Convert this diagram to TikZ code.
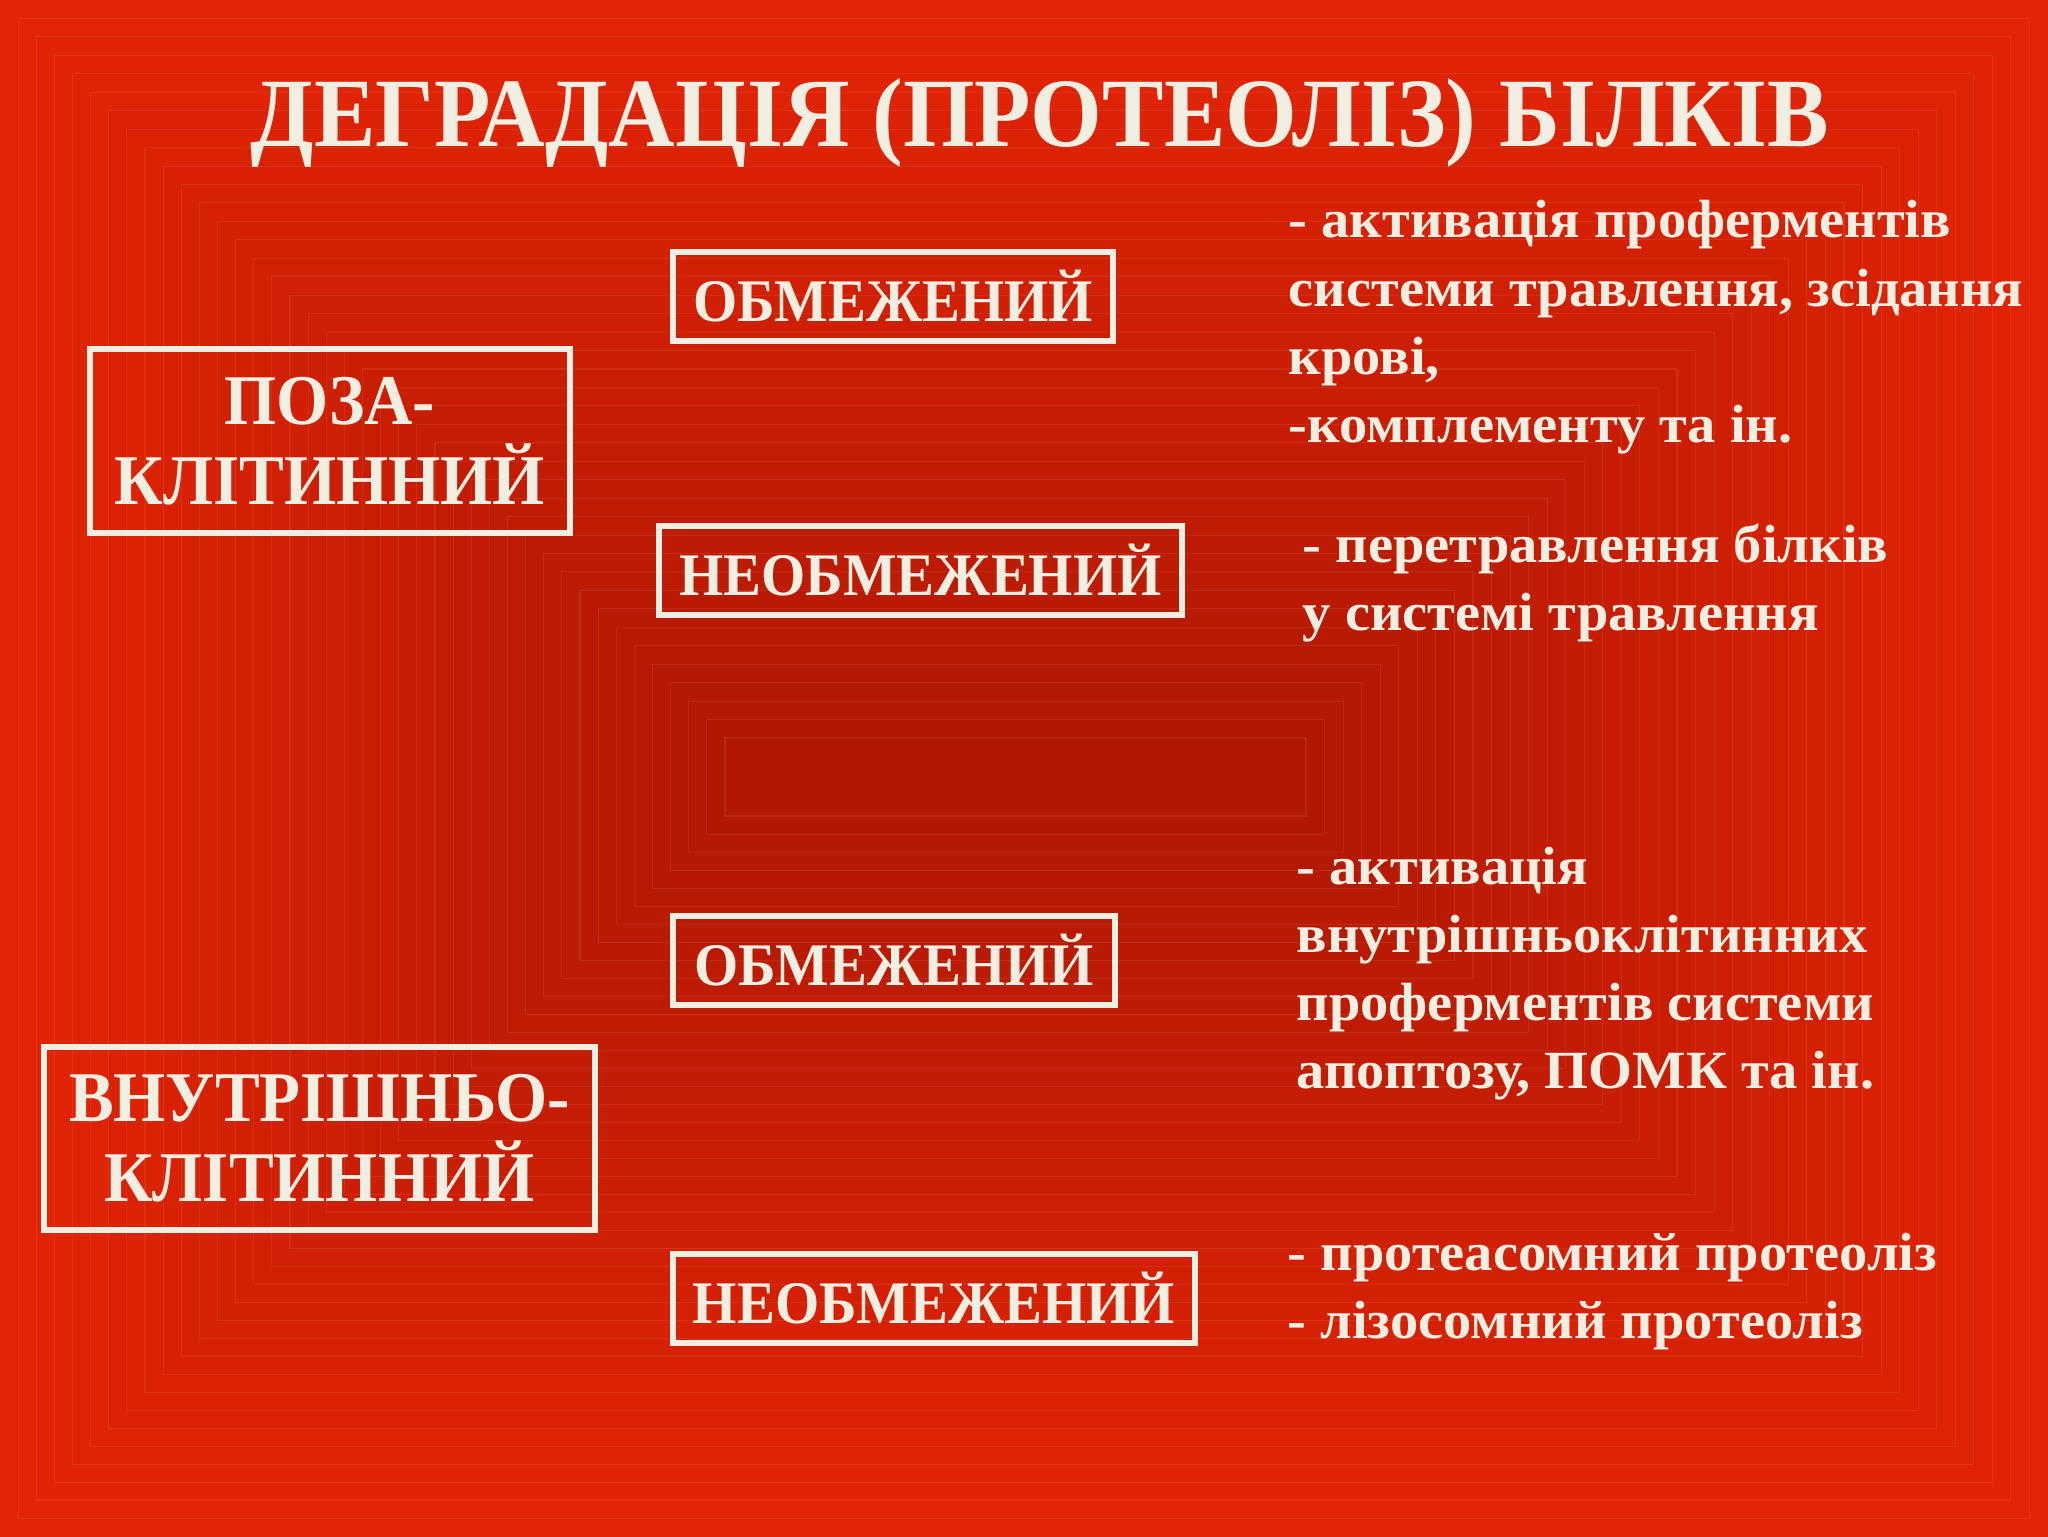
\documentclass[tikz,border=0pt]{standalone}
\usepackage{fontspec}
\setmainfont{Liberation Serif}
\newfontfamily\headfont{Liberation Serif}[FakeStretch=0.94]
\newfontfamily\notefont{Liberation Serif}[FakeStretch=1.05]
\usepackage{tikz}
\definecolor{bgedge}{HTML}{E42406}
\definecolor{bgcore}{HTML}{B01803}
\definecolor{chalk}{HTML}{F3EEE2}
\tikzset{
  kind/.style={draw=chalk, line width=1.7pt, text=chalk, inner sep=0pt,
    align=center, font=\headfont\bfseries\fontsize{17.2pt}{23pt}\selectfont},
  bigkind/.style={kind, font=\headfont\bfseries\fontsize{20.3pt}{22.8pt}\selectfont},
  note/.style={text=chalk, inner sep=0pt, align=left, anchor=base west,
    font=\notefont\bfseries\fontsize{15.3pt}{19.35pt}\selectfont}
}
\begin{document}
\begin{tikzpicture}[x=0.1mm, y=-0.1mm]
  \useasboundingbox (0,0) rectangle (2048,1536);
  \fill[bgedge] (-10,-10) rectangle (2058,1546);
  \foreach \i in {1,...,40} {
    \pgfmathsetmacro{\p}{\i*2.5}
    \filldraw[fill=bgcore!\p!bgedge, draw=white, draw opacity=0.07, line width=0.3pt]
      (\i/40*725, \i/40*738) rectangle (2048-\i/40*742, 1536-\i/40*720);
  }
  \node[text=chalk, font=\headfont\bfseries\fontsize{27.9pt}{30pt}\selectfont, anchor=base]
    (title) at (1040,146) {ДЕГРАДАЦІЯ (ПРОТЕОЛІЗ) БІЛКІВ};

  \node[bigkind, minimum width=48.0mm, minimum height=18.4mm] (extra) at (330,441)
    {ПОЗА-\\КЛІТИННИЙ};
  \node[kind, minimum width=44.0mm, minimum height=8.9mm] (extralim) at (893,296.5)
    {ОБМЕЖЕНИЙ};
  \node[kind, minimum width=52.3mm, minimum height=8.9mm] (extrafull) at (920.5,570.5)
    {НЕОБМЕЖЕНИЙ};

  \node[bigkind, minimum width=55.1mm, minimum height=18.3mm] (intra) at (319.5,1138.5)
    {ВНУТРІШНЬО-\\КЛІТИННИЙ};
  \node[kind, minimum width=44.2mm, minimum height=8.9mm] (intralim) at (894,960.5)
    {ОБМЕЖЕНИЙ};
  \node[kind, minimum width=52.2mm, minimum height=8.9mm] (intrafull) at (934,1298.5)
    {НЕОБМЕЖЕНИЙ};

  \node[note] (extralimtxt) at (1288,442)
    {- активація проферментів\\системи травлення, зсідання\\крові,\\-комплементу та ін.};
  \node[note] (extrafulltxt) at (1302,630)
    {- перетравлення білків\\у системі травлення};
  \node[note] (intralimtxt) at (1296,1088)
    {- активація\\внутрішньоклітинних\\проферментів системи\\апоптозу, ПОМК та ін.};
  \node[note] (intrafulltxt) at (1287,1338)
    {- протеасомний протеоліз\\- лізосомний протеоліз};
\end{tikzpicture}
\end{document}
